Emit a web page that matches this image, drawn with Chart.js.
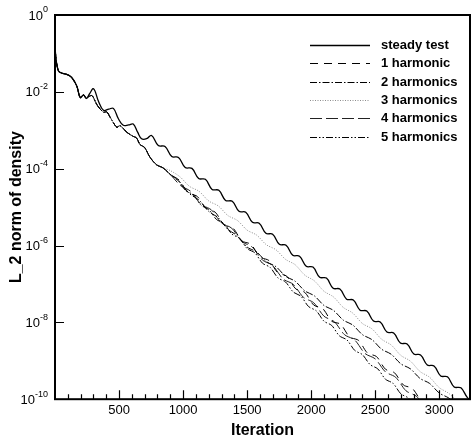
<!DOCTYPE html>
<html>
<head>
<meta charset="utf-8">
<title>L_2 norm of density</title>
<script src="https://cdn.jsdelivr.net/npm/chart.js@4.4.1/dist/chart.umd.min.js"></script>
<style>
  html, body { margin: 0; padding: 0; background: #ffffff; }
  #wrap { width: 473px; height: 440px; }
</style>
</head>
<body>
<div id="wrap"><canvas id="residualChart" width="473" height="440"></canvas></div>
<script>
// residual history, values are log10 of the L_2 norm
const steadyIter = [0, 10, 20, 30, 60, 95, 130, 170, 197, 223, 244, 270, 301, 340, 378, 420, 456, 495, 533, 575, 611, 645, 676, 715,
  754, 806.5, 859, 911.5, 964, 1016.5, 1069, 1121.5, 1174, 1226.5, 1279, 1331.5, 1384, 1436.5, 1489, 1541.5, 1594, 1646.5,
  1699, 1751.5, 1804, 1856.5, 1909, 1961.5, 2014, 2066.5, 2119, 2171.5, 2224, 2276.5, 2329, 2381.5, 2434, 2486.5, 2539,
  2591.5, 2644, 2696.5, 2749, 2801.5, 2854, 2906.5, 2959, 3011.5, 3064, 3116.5, 3169, 3221.5, 3260];
const steadyLog = [-0.85, -1.2, -1.38, -1.47, -1.52, -1.55, -1.62, -1.85, -2.15, -2.08, -2.17, -2.05, -1.92, -2.25, -2.48, -2.45, -2.43, -2.7, -2.87, -2.86, -2.84, -3.05, -3.22, -3.22,
  -3.135, -3.398, -3.421, -3.683, -3.706, -3.969, -3.992, -4.255, -4.277, -4.540, -4.563, -4.826, -4.849, -5.111, -5.134, -5.397, -5.420, -5.683,
  -5.705, -5.968, -5.991, -6.254, -6.277, -6.539, -6.562, -6.825, -6.848, -7.111, -7.133, -7.396, -7.419, -7.682, -7.705, -7.967, -7.990,
  -8.253, -8.276, -8.539, -8.561, -8.824, -8.847, -9.110, -9.133, -9.395, -9.418, -9.681, -9.704, -9.967, -10.05];

// all harmonic runs share the start of the history
const harmStartIter = [0, 10, 20, 30, 60, 95, 130, 170, 197, 223, 244, 265, 290, 330, 378, 404, 430, 482, 508, 560, 611, 637, 663, 700, 741, 793, 844];
const harmStartLog = [-0.85, -1.2, -1.38, -1.47, -1.52, -1.55, -1.63, -1.85, -2.15, -2.08, -2.17, -2.12, -2.1, -2.35, -2.53, -2.52, -2.66, -2.92, -2.88, -3.05, -3.16, -3.2, -3.37, -3.45, -3.7, -3.9, -3.98];

const oneIter = [900, 970, 1040, 1110, 1180, 1250, 1320, 1390, 1460, 1530, 1600, 1670, 1740, 1810, 1880, 1950, 2020, 2090, 2160, 2230, 2300, 2370, 2440, 2510, 2580, 2650, 2720, 2790, 2860, 2900];
const oneLog = [-4.15, -4.30, -4.63, -4.72, -5.04, -5.13, -5.46, -5.55, -5.88, -5.97, -6.30, -6.39, -6.71, -6.80, -7.13, -7.22, -7.55, -7.64, -7.97, -8.05, -8.38, -8.47, -8.80, -8.89, -9.22, -9.31, -9.63, -9.72, -10.05, -10.11];

const twoIter = [900, 975, 1050, 1125, 1200, 1275, 1350, 1425, 1500, 1575, 1650, 1725, 1800, 1875, 1950, 2025, 2100, 2175, 2250, 2325, 2400, 2475, 2550, 2625, 2700, 2775, 2850, 2925, 3000, 3075, 3120];
const twoLog = [-4.15, -4.35, -4.65, -4.82, -5.11, -5.28, -5.58, -5.75, -6.04, -6.17, -6.42, -6.55, -6.80, -6.93, -7.18, -7.31, -7.56, -7.69, -7.94, -8.07, -8.32, -8.45, -8.70, -8.83, -9.08, -9.21, -9.46, -9.59, -9.84, -9.97, -10.1];

const threeIter = [900, 975, 1050, 1125, 1200, 1275, 1350, 1425, 1500, 1575, 1650, 1725, 1800, 1875, 1950, 2025, 2100, 2175, 2250, 2325, 2400, 2475, 2550, 2625, 2700, 2775, 2850, 2925, 3000, 3075, 3150];
const threeLog = [-4.05, -4.21, -4.46, -4.59, -4.84, -4.97, -5.22, -5.35, -5.60, -5.73, -5.98, -6.11, -6.36, -6.50, -6.77, -6.92, -7.19, -7.34, -7.61, -7.76, -8.03, -8.17, -8.44, -8.59, -8.86, -9.01, -9.28, -9.43, -9.70, -9.85, -10.09];

const fourIter = [900, 980, 1060, 1140, 1220, 1300, 1380, 1460, 1540, 1620, 1700, 1780, 1860, 1940, 2020, 2100, 2180, 2260, 2340, 2420, 2500, 2580, 2660, 2740, 2820, 2880];
const fourLog = [-4.15, -4.44, -4.59, -4.93, -5.07, -5.41, -5.55, -5.90, -6.04, -6.38, -6.52, -6.87, -7.01, -7.35, -7.49, -7.84, -7.98, -8.32, -8.46, -8.81, -8.95, -9.29, -9.43, -9.78, -9.92, -10.15];

const fiveIter = [900, 960, 1020, 1080, 1140, 1200, 1260, 1320, 1380, 1440, 1500, 1560, 1620, 1680, 1740, 1800, 1860, 1920, 1980, 2040, 2100, 2160, 2220, 2280, 2340, 2400, 2460, 2520, 2580, 2640, 2700, 2760, 2800];
const fiveLog = [-4.15, -4.30, -4.57, -4.68, -4.95, -5.06, -5.32, -5.43, -5.70, -5.81, -6.08, -6.19, -6.46, -6.57, -6.84, -6.95, -7.21, -7.32, -7.59, -7.70, -7.97, -8.08, -8.35, -8.46, -8.73, -8.84, -9.10, -9.21, -9.48, -9.59, -9.86, -9.97, -10.14];

const seriesNames = ['steady test', '1 harmonic', '2 harmonics', '3 harmonics', '4 harmonics', '5 harmonics'];

// decade ticks on the y axis: value, base and exponent text
const yTickValues = [1e-10, 1e-8, 1e-6, 1e-4, 1e-2, 1];
const yTickExponents = ['-10', '-8', '-6', '-4', '-2', '0'];
const xLabelStep = 500;

const FONT = "'Liberation Sans', Arial, sans-serif";

function toPoints(iters, logs) {
    return iters.map((it, i) => ({ x: it, y: Math.pow(10, logs[i]) }));
}

// inward tick marks, 10^n labels, frame and the legend box like the original plot
const framePlugin = {
    id: 'framePlugin',
    afterDraw(chart) {
        const { ctx, chartArea: a, scales } = chart;
        const xs = scales.x, ys = scales.y;
        ctx.save();
        ctx.strokeStyle = '#000';
        ctx.lineWidth = 1.2;
        ctx.beginPath();
        xs.ticks.forEach(t => {
            if (t.value <= 0 || t.value % 100 !== 0) return;
            const px = Math.round(xs.getPixelForValue(t.value)) + 0.5;
            const len = t.value % xLabelStep === 0 ? 9 : 5;
            ctx.moveTo(px, a.bottom);
            ctx.lineTo(px, a.bottom - len);
        });
        ys.ticks.forEach(t => {
            if (t.value <= ys.min || t.value >= ys.max) return;
            const py = Math.round(ys.getPixelForValue(t.value)) + 0.5;
            ctx.moveTo(a.left, py);
            ctx.lineTo(a.left + 9, py);
        });
        ctx.stroke();

        ctx.lineWidth = 2;
        ctx.strokeRect(a.left, a.top, a.right - a.left, a.bottom - a.top);

        // y labels: "10" with a raised exponent, right aligned to the axis
        ctx.fillStyle = '#000';
        ctx.textBaseline = 'middle';
        ctx.textAlign = 'right';
        const labelRight = a.left - 7;
        yTickValues.forEach((v, i) => {
            const py = ys.getPixelForValue(v);
            ctx.font = '9px ' + FONT;
            const expW = ctx.measureText(yTickExponents[i]).width;
            ctx.fillText(yTickExponents[i], labelRight, py - 5);
            ctx.font = '13px ' + FONT;
            ctx.fillText('10', labelRight - expW, py + 1);
        });

        // legend
        ctx.textAlign = 'left';
        ctx.font = 'bold 13px ' + FONT;
        chart.data.datasets.forEach((ds, i) => {
            const y = Math.round(45 + i * 18.3) + 0.5;
            ctx.save();
            ctx.strokeStyle = ds.borderColor;
            ctx.lineWidth = ds.borderWidth;
            ctx.setLineDash(ds.borderDash || []);
            ctx.beginPath();
            ctx.moveTo(310, y);
            ctx.lineTo(370, y);
            ctx.stroke();
            ctx.restore();
            ctx.fillText(ds.label, 381, y);
        });
        ctx.restore();
    }
};

const ctx = document.getElementById('residualChart').getContext('2d');
const chart = new Chart(ctx, {
    type: 'line',
    data: {
        datasets: [
            { label: seriesNames[0], data: toPoints(steadyIter, steadyLog), borderColor: '#000000', borderWidth: 1.3, tension: 0.4 },
            { label: seriesNames[1], data: toPoints(harmStartIter.concat(oneIter), harmStartLog.concat(oneLog)), borderColor: '#000000', borderWidth: 1, borderDash: [8, 6], tension: 0.3 },
            { label: seriesNames[2], data: toPoints(harmStartIter.concat(twoIter), harmStartLog.concat(twoLog)), borderColor: '#000000', borderWidth: 1, borderDash: [7, 2, 1.5, 2], tension: 0.3 },
            { label: seriesNames[3], data: toPoints(harmStartIter.concat(threeIter), harmStartLog.concat(threeLog)), borderColor: '#8c8c8c', borderWidth: 1, borderDash: [1, 1.5], tension: 0.3 },
            { label: seriesNames[4], data: toPoints(harmStartIter.concat(fourIter), harmStartLog.concat(fourLog)), borderColor: '#222222', borderWidth: 1, borderDash: [12, 4], tension: 0.3 },
            { label: seriesNames[5], data: toPoints(harmStartIter.concat(fiveIter), harmStartLog.concat(fiveLog)), borderColor: '#000000', borderWidth: 1, borderDash: [7, 2, 1.5, 2, 1.5, 2], tension: 0.3 }
        ]
    },
    options: {
        responsive: false,
        animation: false,
        layout: { padding: { top: 15, right: 1, bottom: 0, left: 0 } },
        elements: { point: { radius: 0 } },
        plugins: {
            legend: { display: false },
            tooltip: { enabled: false }
        },
        scales: {
            x: {
                type: 'linear',
                min: 0,
                max: 3240,
                grid: { display: false, drawTicks: false },
                border: { display: false },
                ticks: {
                    stepSize: 100,
                    autoSkip: false,
                    maxRotation: 0,
                    minRotation: 0,
                    padding: 3,
                    color: '#000',
                    font: { family: FONT, size: 13 },
                    callback: v => (v > 0 && v % xLabelStep === 0) ? String(v) : ''
                },
                title: {
                    display: true,
                    text: 'Iteration',
                    color: '#000',
                    font: { family: FONT, size: 16, weight: 'bold' },
                    padding: { top: 0, bottom: 0 }
                }
            },
            y: {
                type: 'logarithmic',
                min: 1e-10,
                max: 1,
                grid: { display: false, drawTicks: false },
                border: { display: false },
                afterBuildTicks: scale => {
                    scale.ticks = yTickValues.map(v => ({ value: v }));
                },
                afterFit: scale => { scale.width = 55; },
                ticks: { display: false },
                title: {
                    display: true,
                    text: 'L_2 norm of density',
                    color: '#000',
                    font: { family: FONT, size: 16, weight: 'bold' },
                    padding: { top: 7, bottom: 0 }
                }
            }
        }
    },
    plugins: [framePlugin]
});
</script>
</body>
</html>
